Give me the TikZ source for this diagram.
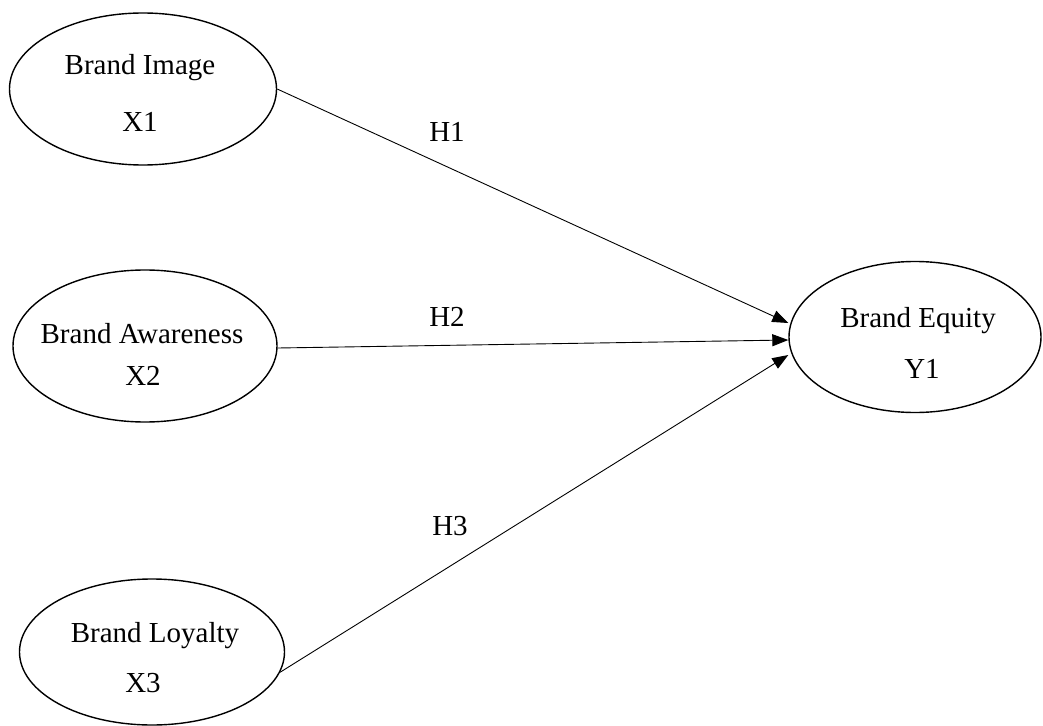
\documentclass[tikz,border=0pt]{standalone}
\usepackage{fontspec}
\setmainfont{Liberation Serif}
\usetikzlibrary{shapes.geometric,arrows.meta}
\begin{document}
\begin{tikzpicture}[x=1bp,y=-1bp,
  ell/.style={draw,ellipse,line width=1.4bp,inner sep=0pt},
  lbl/.style={anchor=base,inner sep=0pt,font=\fontsize{29bp}{34bp}\selectfont},
  link/.style={line width=0.9bp,-{Triangle[length=16bp,width=12bp]}}]
\useasboundingbox (0,0) rectangle (1043,726);
\node[ell,minimum width=267bp,minimum height=152bp] (img) at (143,89) {};
\node[ell,minimum width=264bp,minimum height=152bp] (awa) at (145,346) {};
\node[ell,minimum width=265bp,minimum height=146bp] (loy) at (152,652) {};
\node[ell,minimum width=252bp,minimum height=151bp] (eq) at (915,337) {};
\node[lbl] (t1a) at (140,75) {Brand Image};
\node[lbl] (t1b) at (140,132) {X1};
\node[lbl] (t2a) at (142,343) {Brand Awareness};
\node[lbl] (t2b) at (143,385) {X2};
\node[lbl] (t3a) at (155,642) {Brand Loyalty};
\node[lbl] (t3b) at (143,692) {X3};
\node[lbl] (t4a) at (918,327) {Brand Equity};
\node[lbl] (t4b) at (922,378) {Y1};
\node[lbl] (h1) at (447,142) {H1};
\node[lbl] (h2) at (447,326) {H2};
\node[lbl] (h3) at (450,535) {H3};
\draw[link] (img.east) -- ([yshift=14bp]eq.west);
\draw[link] ([yshift=-2bp]awa.east) -- ([yshift=-3bp]eq.west);
\draw[link] (loy.-9) -- ([yshift=-18bp]eq.west);
\end{tikzpicture}
\end{document}
